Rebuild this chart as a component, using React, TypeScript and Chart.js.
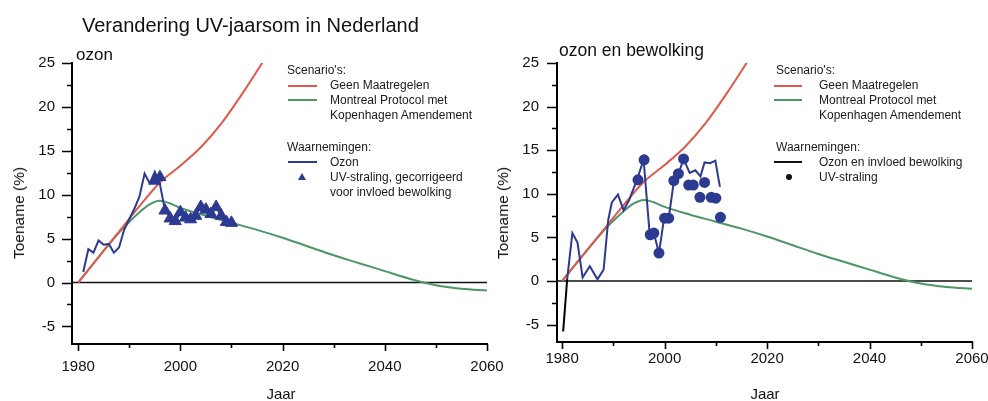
import React, { useEffect, useRef } from 'react';
import { Chart, registerables } from 'chart.js';

Chart.register(...registerables);

const FONT = 'Arial, "Liberation Sans", Helvetica, sans-serif';

// ---- axis ticks ----
const X_TICKS = [1980, 2000, 2020, 2040, 2060];
const X_MINOR = [1990, 2010, 2030, 2050];
const Y_TICKS = [-5, 0, 5, 10, 15, 20, 25];
const Y_MINOR = [-2.5, 2.5, 7.5, 12.5, 17.5, 22.5];
const Y_MIN = -7;
const Y_MAX = 25;
const X_MAX = 2060;

// ---- scenarios ----
const geenYears = [1980, 1984, 1988, 1992, 1996, 2000, 2004, 2008, 2012, 2016, 2020];
const geenValues = [0, 2.9, 5.8, 8.7, 11.4, 13.3, 15.4, 18.1, 21.4, 25.0, 28.8];

const montrealYears = [1980, 1984, 1988, 1990, 1992, 1994, 1996, 1998, 2000, 2005, 2010, 2015, 2020, 2025, 2030, 2035, 2040, 2045, 2050, 2055, 2060];
const montrealValues = [0, 2.9, 5.7, 6.9, 8.0, 8.9, 9.3, 9.0, 8.5, 7.6, 6.8, 6.0, 5.1, 4.1, 3.1, 2.2, 1.3, 0.4, -0.3, -0.7, -0.9];

// ---- left panel: ozon ----
const ozonYears = [1981, 1982, 1983, 1984, 1985, 1986, 1987, 1988, 1989, 1990, 1991, 1992, 1993, 1994, 1995, 1996, 1997, 1998, 1999, 2000, 2001, 2002, 2003, 2004, 2005, 2006, 2007, 2008, 2009, 2010];
const ozonValues = [1.2, 3.8, 3.4, 4.8, 4.3, 4.4, 3.4, 4.0, 6.0, 7.2, 8.4, 9.8, 12.4, 11.3, 12.6, 11.2, 8.2, 7.5, 6.9, 8.0, 7.4, 7.2, 7.7, 8.6, 8.2, 7.8, 8.5, 7.7, 6.9, 6.8];

const uvCorrYears = [1995, 1996, 1997, 1998, 1999, 2000, 2001, 2002, 2003, 2004, 2005, 2006, 2007, 2008, 2009, 2010];
const uvCorrValues = [11.6, 12.0, 8.2, 7.3, 7.0, 8.0, 7.4, 7.2, 7.6, 8.6, 8.3, 7.8, 8.6, 7.6, 6.9, 6.8];

// ---- right panel: ozon en bewolking ----
const bewolkingYears = [1980.2, 1981.0, 1982.0, 1983.0, 1984.0, 1985.4, 1986.9, 1988.1, 1989.0, 1989.7, 1990.9, 1992.0, 1993.1, 1994.6, 1995.9, 1997.1, 1997.9, 1998.9, 1999.9, 2000.8, 2001.8, 2002.7, 2003.7, 2004.9, 2006.0, 2007.0, 2007.8, 2008.9, 2009.9, 2010.8];
const bewolkingValues = [-5.8, 0.3, 5.5, 4.4, 0.4, 1.7, 0.2, 1.3, 7.0, 9.0, 9.9, 8.1, 9.3, 11.6, 13.9, 5.3, 5.5, 3.2, 7.2, 7.2, 11.4, 12.3, 14.0, 12.4, 12.7, 12.0, 13.6, 13.5, 13.8, 10.8];

const uvYears = [1994.8, 1996.0, 1997.2, 1997.9, 1998.9, 2000.0, 2000.8, 2001.8, 2002.7, 2003.7, 2004.7, 2005.6, 2006.9, 2007.8, 2009.1, 2010.0, 2010.9];
const uvValues = [11.6, 13.9, 5.3, 5.5, 3.2, 7.2, 7.2, 11.5, 12.3, 14.0, 11.0, 11.0, 9.6, 11.3, 9.6, 9.5, 7.3];

const zeroValues = [0, 0];

const RED = '#e0594c';
const GREEN = '#4c9667';
const NAVY = '#2d3a92';
const BLACK = '#111111';

const pts = (xs: number[], ys: number[]) => xs.map((x, i) => ({ x, y: ys[i] }));

const tickPlugin = {
  id: 'axisTicks',
  afterDraw(chart: any) {
    const { ctx, chartArea, scales } = chart;
    const xs = scales.x;
    const ys = scales.y;
    ctx.save();
    ctx.strokeStyle = '#000';
    ctx.lineWidth = 1.6;
    ctx.beginPath();
    Y_TICKS.forEach((v) => {
      const p = Math.round(ys.getPixelForValue(v)) + 0.5;
      ctx.moveTo(chartArea.left - 10, p);
      ctx.lineTo(chartArea.left, p);
    });
    Y_MINOR.forEach((v) => {
      const p = Math.round(ys.getPixelForValue(v)) + 0.5;
      ctx.moveTo(chartArea.left - 5, p);
      ctx.lineTo(chartArea.left, p);
    });
    X_TICKS.forEach((v) => {
      const p = Math.round(xs.getPixelForValue(v)) + 0.5;
      ctx.moveTo(p, chartArea.bottom);
      ctx.lineTo(p, chartArea.bottom + 7);
    });
    X_MINOR.forEach((v) => {
      const p = Math.round(xs.getPixelForValue(v)) + 0.5;
      ctx.moveTo(p, chartArea.bottom);
      ctx.lineTo(p, chartArea.bottom + 4);
    });
    ctx.stroke();
    ctx.restore();
  },
};

type PanelCfg = {
  xMin: number;
  yWidth: number;
  padRight: number;
  xHeight: number;
  labelPadY: number;
  labelPadX: number;
};

function makeOptions(c: PanelCfg): any {
  return {
    responsive: false,
    maintainAspectRatio: false,
    animation: false,
    events: [],
    layout: { padding: { left: 0, top: 63, right: c.padRight, bottom: 0 } },
    plugins: { legend: { display: false }, tooltip: { enabled: false }, title: { display: false } },
    scales: {
      x: {
        type: 'linear',
        min: c.xMin,
        max: X_MAX,
        grid: { display: false, drawTicks: false },
        border: { display: true, color: '#000', width: 2 },
        afterBuildTicks: (s: any) => {
          s.ticks = X_TICKS.map((v) => ({ value: v }));
        },
        afterFit: (s: any) => {
          s.height = c.xHeight;
          s.paddingLeft = 0;
          s.paddingRight = 0;
        },
        ticks: {
          padding: c.labelPadX,
          color: BLACK,
          font: { family: FONT, size: 15 },
          maxRotation: 0,
          autoSkip: false,
          callback: (v: any) => String(v),
        },
      },
      y: {
        type: 'linear',
        min: Y_MIN,
        max: Y_MAX,
        grid: { display: false, drawTicks: false },
        border: { display: true, color: '#000', width: 2 },
        afterBuildTicks: (s: any) => {
          s.ticks = Y_TICKS.map((v) => ({ value: v }));
        },
        afterFit: (s: any) => {
          s.width = c.yWidth;
          s.paddingTop = 0;
          s.paddingBottom = 0;
        },
        ticks: {
          padding: c.labelPadY,
          color: BLACK,
          font: { family: FONT, size: 15 },
          autoSkip: false,
          callback: (v: any) => String(v),
        },
      },
    },
  };
}

const LEFT: PanelCfg = { xMin: 1978.8, yWidth: 72, padRight: 33, xHeight: 57, labelPadY: 17, labelPadX: 14 };
const RIGHT: PanelCfg = { xMin: 1979, yWidth: 63, padRight: 16, xHeight: 59, labelPadY: 18, labelPadX: 8 };

function scenarioSets(xMin: number) {
  return [
    {
      data: pts(geenYears, geenValues),
      borderColor: RED,
      borderWidth: 2,
      pointRadius: 0,
      cubicInterpolationMode: 'monotone',
    },
    {
      data: pts(montrealYears, montrealValues),
      borderColor: GREEN,
      borderWidth: 2,
      pointRadius: 0,
      cubicInterpolationMode: 'monotone',
    },
    {
      data: pts([xMin, X_MAX], zeroValues),
      borderColor: BLACK,
      borderWidth: 1.5,
      pointRadius: 0,
    },
  ];
}

function Txt(props: { x: number; base: number; size: number; children: any; color?: string }) {
  const { x, base, size, children, color } = props;
  return (
    <div
      style={{
        position: 'absolute',
        left: x,
        top: base - 0.8465 * size,
        fontSize: size,
        lineHeight: `${size}px`,
        whiteSpace: 'nowrap',
        color: color || '#1a1a1a',
        fontFamily: FONT,
      }}
    >
      {children}
    </div>
  );
}

function Swatch(props: { x: number; y: number; w: number; color: string }) {
  return (
    <div
      style={{
        position: 'absolute',
        left: props.x,
        top: props.y - 1.25,
        width: props.w,
        height: 2.5,
        background: props.color,
      }}
    />
  );
}

const LS = 12;

export default function App() {
  const leftRef = useRef<HTMLCanvasElement | null>(null);
  const rightRef = useRef<HTMLCanvasElement | null>(null);

  useEffect(() => {
    const left = new Chart(leftRef.current as HTMLCanvasElement, {
      type: 'line',
      data: {
        datasets: [
          {
            data: pts(uvCorrYears, uvCorrValues),
            showLine: false,
            pointStyle: 'triangle',
            pointRadius: 7,
            backgroundColor: NAVY,
            borderColor: NAVY,
            borderWidth: 1,
          },
          {
            data: pts(ozonYears, ozonValues),
            borderColor: NAVY,
            borderWidth: 2,
            pointRadius: 0,
            tension: 0,
          },
          ...scenarioSets(LEFT.xMin),
        ] as any,
      },
      options: makeOptions(LEFT),
      plugins: [tickPlugin],
    });

    const right = new Chart(rightRef.current as HTMLCanvasElement, {
      type: 'line',
      data: {
        datasets: [
          {
            data: pts(uvYears, uvValues),
            showLine: false,
            pointStyle: 'circle',
            pointRadius: 5.5,
            backgroundColor: NAVY,
            borderColor: NAVY,
            borderWidth: 0,
          },
          {
            data: pts(bewolkingYears, bewolkingValues),
            borderColor: NAVY,
            borderWidth: 2,
            pointRadius: 0,
            tension: 0,
            segment: {
              borderColor: (ctx: any) => (ctx.p0DataIndex === 0 ? '#000' : undefined),
            },
          },
          ...scenarioSets(RIGHT.xMin),
        ] as any,
      },
      options: makeOptions(RIGHT),
      plugins: [tickPlugin],
    });

    return () => {
      left.destroy();
      right.destroy();
    };
  }, []);

  return (
    <div
      style={{
        position: 'fixed',
        left: 0,
        top: 0,
        width: 988,
        height: 401,
        background: '#fff',
        overflow: 'hidden',
        fontFamily: FONT,
      }}
    >
      <canvas ref={leftRef} width={520} height={401} style={{ position: 'absolute', left: 0, top: 0, width: 520, height: 401 }} />
      <canvas ref={rightRef} width={494} height={401} style={{ position: 'absolute', left: 494, top: 0, width: 494, height: 401 }} />

      <Txt x={82} base={32} size={20} color="#111">Verandering UV-jaarsom in Nederland</Txt>
      <Txt x={76} base={60} size={17} color="#111">ozon</Txt>
      <Txt x={559} base={57} size={17.5} color="#111">ozon en bewolking</Txt>

      {/* axis titles */}
      {[19, 503].map((cx) => (
        <div
          key={cx}
          style={{
            position: 'absolute',
            left: cx,
            top: 213,
            transform: 'translate(-50%, -50%) rotate(-90deg)',
            fontSize: 15.5,
            lineHeight: '16px',
            whiteSpace: 'nowrap',
            color: '#111',
            fontFamily: FONT,
          }}
        >
          Toename (%)
        </div>
      ))}
      {[281, 765].map((cx) => (
        <div
          key={cx}
          style={{
            position: 'absolute',
            left: cx,
            top: 399 - 0.8465 * 15,
            transform: 'translateX(-50%)',
            fontSize: 15,
            lineHeight: '15px',
            whiteSpace: 'nowrap',
            color: '#111',
            fontFamily: FONT,
          }}
        >
          Jaar
        </div>
      ))}

      {/* left legend */}
      <Txt x={287} base={74} size={LS}>Scenario's:</Txt>
      <Swatch x={288} y={86} w={29} color={RED} />
      <Txt x={330} base={89.5} size={LS}>Geen Maatregelen</Txt>
      <Swatch x={288} y={100} w={29} color={GREEN} />
      <Txt x={330} base={104} size={LS}>Montreal Protocol met</Txt>
      <Txt x={330} base={119} size={LS}>Kopenhagen Amendement</Txt>
      <Txt x={287} base={151} size={LS}>Waarnemingen:</Txt>
      <Swatch x={288} y={162} w={29} color={NAVY} />
      <Txt x={330} base={166} size={LS}>Ozon</Txt>
      <div
        style={{
          position: 'absolute',
          left: 298,
          top: 173,
          width: 0,
          height: 0,
          borderLeft: '4px solid transparent',
          borderRight: '4px solid transparent',
          borderBottom: `7px solid ${NAVY}`,
        }}
      />
      <Txt x={330} base={181} size={LS}>UV-straling, gecorrigeerd</Txt>
      <Txt x={330} base={196} size={LS}>voor invloed bewolking</Txt>

      {/* right legend */}
      <Txt x={776} base={74} size={LS}>Scenario's:</Txt>
      <Swatch x={774} y={86} w={28} color={RED} />
      <Txt x={819} base={89.5} size={LS}>Geen Maatregelen</Txt>
      <Swatch x={774} y={100} w={28} color={GREEN} />
      <Txt x={819} base={104} size={LS}>Montreal Protocol met</Txt>
      <Txt x={819} base={119} size={LS}>Kopenhagen Amendement</Txt>
      <Txt x={776} base={151} size={LS}>Waarnemingen:</Txt>
      <Swatch x={774} y={162} w={28} color={BLACK} />
      <Txt x={819} base={166} size={LS}>Ozon en invloed bewolking</Txt>
      <div
        style={{
          position: 'absolute',
          left: 786,
          top: 174,
          width: 6,
          height: 6,
          borderRadius: 3,
          background: '#111',
        }}
      />
      <Txt x={819} base={181} size={LS}>UV-straling</Txt>
    </div>
  );
}
